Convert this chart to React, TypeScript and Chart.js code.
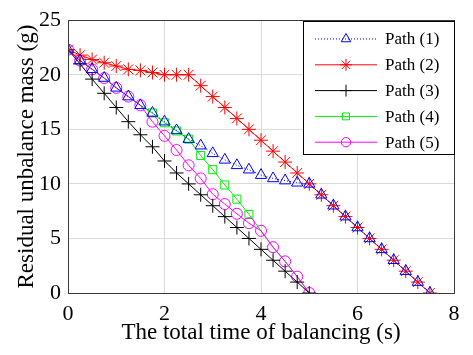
import React, { useEffect, useRef } from "react";
import { Chart, registerables } from "chart.js";

Chart.register(...registerables);

const timeLong = [0, 0.25, 0.5, 0.75, 1, 1.25, 1.5, 1.75, 2, 2.25, 2.5, 2.75, 3, 3.25, 3.5, 3.75, 4, 4.25, 4.5, 4.75, 5, 5.25, 5.5, 5.75, 6, 6.25, 6.5, 6.75, 7, 7.25, 7.5];
const timeShort = [0, 0.25, 0.5, 0.75, 1, 1.25, 1.5, 1.75, 2, 2.25, 2.5, 2.75, 3, 3.25, 3.5, 3.75, 4, 4.25, 4.5, 4.75, 5];

const path1 = [22.3, 21.3, 20.5, 19.7, 18.8, 18.0, 17.2, 16.5, 15.7, 14.9, 14.1, 13.5, 12.8, 12.2, 11.7, 11.3, 10.8, 10.5, 10.3, 10.1, 10.0, 9, 8, 7, 6, 5, 4, 3, 2, 1, 0];
const path2 = [22.3, 21.8, 21.4, 21.1, 20.8, 20.5, 20.4, 20.2, 20.0, 20.0, 20.0, 19, 18, 17, 16, 15, 14, 13, 12, 11, 10, 9, 8, 7, 6, 5, 4, 3, 2, 1, 0];
const path3 = [22.3, 21.0, 19.6, 18.3, 17.0, 15.7, 14.5, 13.4, 12.1, 11.0, 10.0, 9.0, 8.0, 7.0, 6.0, 5.0, 4.0, 3.0, 2.0, 1.0, 0];
const path4 = [22.3, 21.3, 20.5, 19.7, 18.8, 18.0, 17.2, 16.5, 15.6, 14.85, 14.1, 12.6, 11.3, 9.9, 8.6, 7.2, 5.7, 4.2, 2.9, 1.5, 0];
const path5 = [22.3, 21.3, 20.5, 19.7, 18.8, 18.0, 17.2, 15.7, 14.4, 13.1, 11.7, 10.5, 9.05, 8.15, 7.26, 6.4, 5.7, 4.2, 2.9, 1.5, 0];

const seriesNames = ["Path (1)", "Path (2)", "Path (3)", "Path (4)", "Path (5)"];
const xTicks = [0, 2, 4, 6, 8];
const yTicks = [0, 5, 10, 15, 20, 25];
const xTitle = "The total time of balancing (s)";
const yTitle = "Residual unbalance mass (g)";

const SERIF = "'Liberation Serif', 'Times New Roman', serif";

type Style = { color: string; marker: string; radius: number; dash: number[]; order: number };
const styles: Style[] = [
  { color: "#0000ff", marker: "triangle", radius: 6.5, dash: [1, 2], order: 0 },
  { color: "#ff0000", marker: "star", radius: 7, dash: [], order: 1 },
  { color: "#000000", marker: "cross", radius: 7, dash: [], order: 2 },
  { color: "#00ee00", marker: "rect", radius: 5.7, dash: [], order: 4 },
  { color: "#ff00ff", marker: "circle", radius: 5.5, dash: [], order: 3 },
];

function drawMarker(ctx: CanvasRenderingContext2D, marker: string, x: number, y: number, r: number) {
  ctx.beginPath();
  if (marker === "triangle") {
    let a = 0;
    ctx.moveTo(x + Math.sin(a) * r, y - Math.cos(a) * r);
    a += (2 * Math.PI) / 3;
    ctx.lineTo(x + Math.sin(a) * r, y - Math.cos(a) * r);
    a += (2 * Math.PI) / 3;
    ctx.lineTo(x + Math.sin(a) * r, y - Math.cos(a) * r);
    ctx.closePath();
  } else if (marker === "star") {
    ctx.moveTo(x - r, y); ctx.lineTo(x + r, y);
    ctx.moveTo(x, y - r); ctx.lineTo(x, y + r);
    const d = r * Math.SQRT1_2;
    ctx.moveTo(x - d, y - d); ctx.lineTo(x + d, y + d);
    ctx.moveTo(x - d, y + d); ctx.lineTo(x + d, y - d);
  } else if (marker === "cross") {
    ctx.moveTo(x - r, y); ctx.lineTo(x + r, y);
    ctx.moveTo(x, y - r); ctx.lineTo(x, y + r);
  } else if (marker === "rect") {
    const s = r * Math.SQRT1_2;
    ctx.rect(x - s, y - s, 2 * s, 2 * s);
  } else {
    ctx.arc(x, y, r, 0, Math.PI * 2);
  }
  ctx.stroke();
}

const frameAndLegend = {
  id: "frameAndLegend",
  afterDraw(chart: any) {
    const { ctx, chartArea } = chart;
    ctx.save();
    ctx.strokeStyle = "#3a3a3a";
    ctx.lineWidth = 1;
    ctx.strokeRect(
      Math.round(chartArea.left) + 0.5,
      Math.round(chartArea.top) + 0.5,
      Math.round(chartArea.right - chartArea.left),
      Math.round(chartArea.bottom - chartArea.top)
    );
    const right = Math.round(chartArea.right) + 1;
    const left = right - 152;
    const top = Math.round(chartArea.top) + 1;
    const bottom = top + 134;
    ctx.fillStyle = "#ffffff";
    ctx.fillRect(left, top, right - left, bottom - top);
    ctx.strokeStyle = "#000000";
    ctx.strokeRect(left + 0.5, top + 0.5, right - left - 1, bottom - top - 1);
    ctx.font = "17px " + SERIF;
    ctx.textBaseline = "middle";
    ctx.textAlign = "left";
    seriesNames.forEach((name, i) => {
      const st = styles[i];
      const y = top + 18 + i * 25.8;
      ctx.strokeStyle = st.color;
      ctx.lineWidth = 1;
      ctx.setLineDash(st.dash);
      ctx.beginPath();
      ctx.moveTo(left + 12, y);
      ctx.lineTo(left + 74, y);
      ctx.stroke();
      ctx.setLineDash([]);
      drawMarker(ctx, st.marker, left + 43, y, st.radius * 0.85);
      ctx.fillStyle = "#000000";
      ctx.fillText(name, left + 82, y + 1);
    });
    ctx.restore();
  },
};

export default function App() {
  const canvasRef = useRef<HTMLCanvasElement | null>(null);

  useEffect(() => {
    const canvas = canvasRef.current;
    if (!canvas) return;
    const seriesData = [
      { xs: timeLong, ys: path1 },
      { xs: timeLong, ys: path2 },
      { xs: timeShort, ys: path3 },
      { xs: timeShort, ys: path4 },
      { xs: timeShort, ys: path5 },
    ];
    const datasets = seriesData.map((s, i) => ({
      label: seriesNames[i],
      order: styles[i].order,
      data: s.xs.map((x, k) => ({ x, y: s.ys[k] })),
      borderColor: styles[i].color,
      borderWidth: 1,
      borderDash: styles[i].dash,
      backgroundColor: "transparent",
      pointStyle: styles[i].marker as any,
      // path (4) markers are hidden where it shares its route with path (5)
      pointRadius: s.xs.map((x) => (i === 3 && (x <= 1.5 || x >= 4) ? 0 : styles[i].radius)),
      pointBorderColor: styles[i].color,
      pointBackgroundColor: "transparent",
      pointBorderWidth: 1,
      tension: 0,
      fill: false,
    }));

    const chart = new Chart(canvas, {
      type: "line",
      data: { datasets },
      plugins: [frameAndLegend],
      options: {
        animation: false,
        responsive: false,
        maintainAspectRatio: false,
        layout: { padding: { top: 13, right: 19, left: 0, bottom: 0 } },
        plugins: { legend: { display: false }, tooltip: { enabled: false } },
        scales: {
          x: {
            type: "linear",
            min: 0,
            max: 8,
            afterBuildTicks: (s: any) => {
              s.ticks = xTicks.map((v) => ({ value: v }));
            },
            afterFit: (s: any) => {
              s.height = 62;
            },
            grid: { color: "#dadada", drawTicks: false, lineWidth: 1 },
            border: { display: false },
            ticks: {
              color: "#000",
              padding: 8,
              maxRotation: 0,
              font: { family: SERIF, size: 22 },
            },
            title: {
              display: true,
              text: xTitle,
              color: "#000",
              font: { family: SERIF, size: 23 },
              padding: { top: 0, bottom: 8 },
            },
          },
          y: {
            type: "linear",
            min: 0,
            max: 25,
            afterBuildTicks: (s: any) => {
              s.ticks = yTicks.map((v) => ({ value: v }));
            },
            afterFit: (s: any) => {
              s.width = 68;
            },
            grid: { color: "#dadada", drawTicks: false, lineWidth: 1 },
            border: { display: false },
            ticks: {
              color: "#000",
              padding: 7,
              font: { family: SERIF, size: 22 },
            },
            title: {
              display: true,
              text: yTitle,
              color: "#000",
              font: { family: SERIF, size: 23 },
              padding: { top: 13, bottom: 0 },
            },
          },
        },
      },
    });
    return () => chart.destroy();
  }, []);

  return (
    <div style={{ position: "absolute", left: 0, top: 0, width: 473, height: 355, background: "#fff" }}>
      <canvas ref={canvasRef} width={473} height={355} style={{ width: 473, height: 355, display: "block" }} />
    </div>
  );
}
